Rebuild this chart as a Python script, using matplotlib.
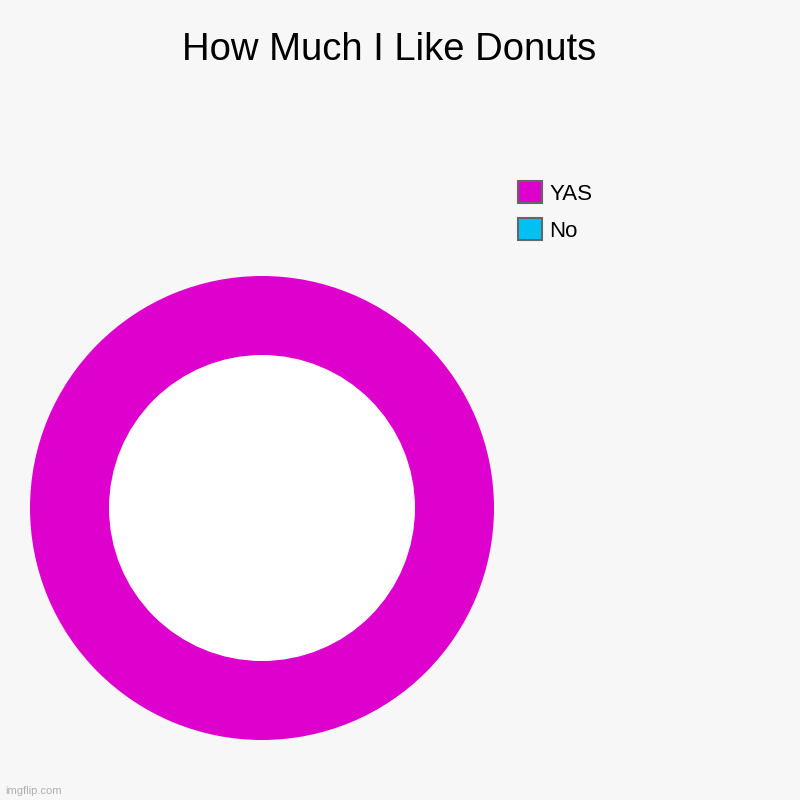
import matplotlib.pyplot as plt
from matplotlib.patches import Patch, Circle

# Chart data
labels = ['YAS', 'No']
values = [100, 0]
colors = ['#de00cd', '#00c2f2']

plt.rcParams['font.family'] = ['Liberation Sans', 'DejaVu Sans']

fig = plt.figure(figsize=(8, 8), dpi=100, facecolor='#f7f7f7')

# Donut axes: outer radius 232px centred at (262, 508)
ax = fig.add_axes([30 / 800, 1 - 740 / 800, 464 / 800, 464 / 800])
ax.pie(values, colors=colors, radius=1, startangle=90, counterclock=False,
       wedgeprops=dict(linewidth=0))
ax.add_patch(Circle((0, 0), 153 / 232, facecolor='white', edgecolor='none'))
ax.set_xlim(-1, 1)
ax.set_ylim(-1, 1)
ax.set_aspect('equal')
ax.axis('off')

fig.text(389 / 800, 1 - 50 / 800, 'How Much I Like Donuts', ha='center', va='center',
         fontsize=27.5, color='black')

handles = [Patch(facecolor=c, edgecolor='#666666', linewidth=1.5) for c in colors]
fig.legend(handles, labels, loc='upper left', bbox_to_anchor=(518 / 800, 1 - 181 / 800),
           frameon=False, fontsize=16, borderpad=0, borderaxespad=0,
           handlelength=1.08, handleheight=1.15, handletextpad=0.32, labelspacing=0.62)

fig.text(5 / 800, 1 - 791 / 800, 'imgflip.com', ha='left', va='center',
         fontsize=8, color='#b0b0b0')

fig.savefig('out.png', dpi=100, facecolor=fig.get_facecolor())
